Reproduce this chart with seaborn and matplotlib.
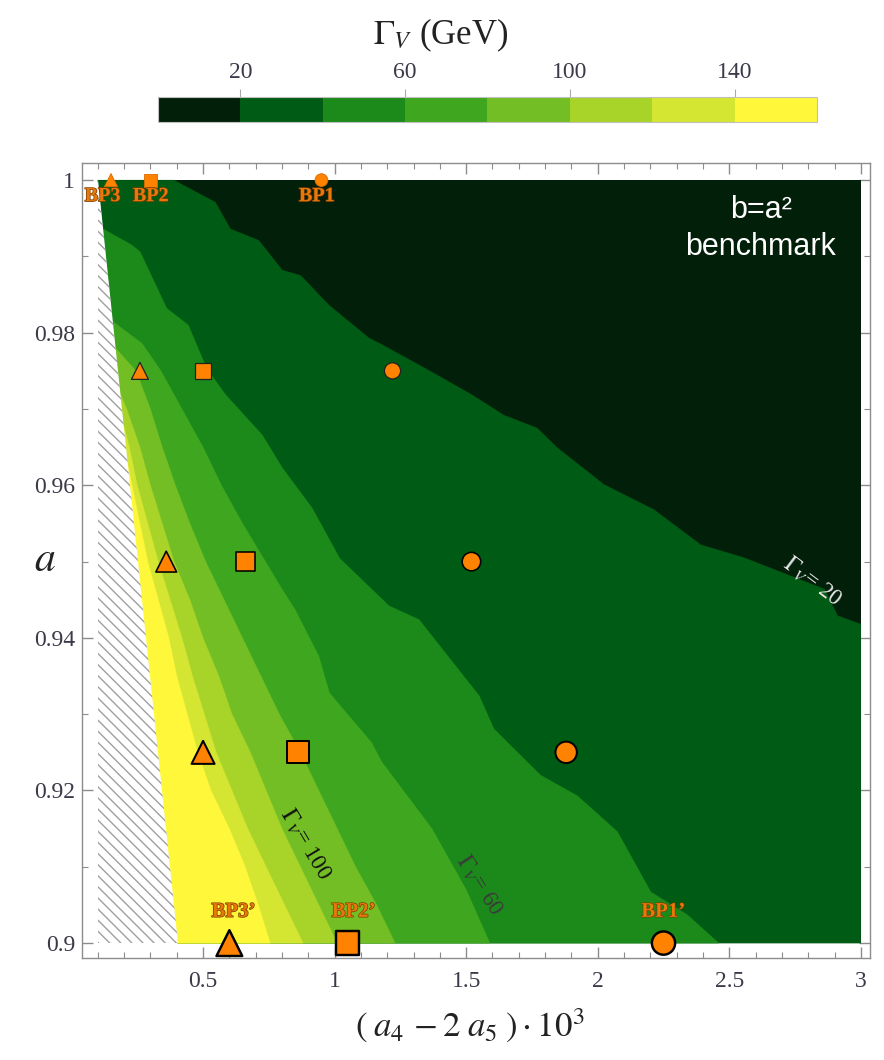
import numpy as np
import matplotlib
matplotlib.use("Agg")
import matplotlib.pyplot as plt
import matplotlib.patheffects as pe
from matplotlib.colors import ListedColormap, BoundaryNorm
from matplotlib.cm import ScalarMappable
from matplotlib.ticker import FixedLocator, FixedFormatter, MultipleLocator
import seaborn as sns

# ---------------- data ----------------
levels = [0, 20, 40, 60, 80, 100, 120, 140, 160]
band_colors = ['#021f0a', '#005b14', '#1c8a1b', '#3fa61f', '#73be25',
               '#a8d328', '#d4e532', '#fff73a']
cbar_ticks = [20, 60, 100, 140]
cbar_ticklabels = ['20', '60', '100', '140']

# data domain and excluded (hatched) wedge
x_lo, x_hi = 0.1, 3.0
a_lo, a_hi = 0.9, 1.0
excl_x = [0.1, 0.404]
excl_a = [1.0, 0.9]

# contour boundaries (x positions vs a)
b20_x = [0.389, 0.547, 0.604, 0.712, 0.801, 0.871, 0.979, 1.131, 1.182, 1.346, 1.52,
         1.643, 1.770, 1.847, 2.024, 2.214, 2.392, 2.557, 2.861, 2.912, 3.0]
b20_a = [1.0, 0.9971, 0.9936, 0.9921, 0.9882, 0.9875, 0.9836, 0.9793, 0.9784, 0.9753, 0.9719,
         0.9692, 0.9675, 0.9649, 0.9601, 0.9568, 0.9522, 0.9505, 0.9464, 0.9429, 0.9418]
b40_x = [0.12, 0.229, 0.261, 0.362, 0.444, 0.514, 0.585, 0.725, 0.801, 0.915, 1.02,
         1.207, 1.321, 1.55, 1.605, 1.783, 1.923, 2.075, 2.202, 2.341, 2.46]
b40_a = [0.9936, 0.9915, 0.9906, 0.9832, 0.9810, 0.9753, 0.9719, 0.9666, 0.9623, 0.9570, 0.9504,
         0.9442, 0.9424, 0.9324, 0.9281, 0.9220, 0.9193, 0.9146, 0.9067, 0.9037, 0.9]
b60_x = [0.156, 0.268, 0.34, 0.42, 0.50, 0.57, 0.65, 0.725, 0.80, 0.85, 0.94, 0.98,
         1.14, 1.18, 1.37, 1.50, 1.59]
b60_a = [0.9815, 0.9786, 0.975, 0.97, 0.965, 0.96, 0.955, 0.9507, 0.9464, 0.9437, 0.9376, 0.9328,
         0.9263, 0.9237, 0.915, 0.907, 0.90]
b80_x = [0.167, 0.245, 0.30, 0.345, 0.395, 0.45, 0.51, 0.58, 0.65, 0.72, 0.79, 0.87,
         0.94, 1.01, 1.08, 1.16, 1.23]
b80_a = [0.978, 0.975, 0.97, 0.965, 0.96, 0.955, 0.95, 0.945, 0.94, 0.935, 0.93, 0.925,
         0.92, 0.915, 0.91, 0.905, 0.90]
b100_x = [0.185, 0.21, 0.26, 0.30, 0.345, 0.39, 0.45, 0.50, 0.56, 0.61, 0.68, 0.74,
          0.80, 0.87, 0.94, 1.01]
b100_a = [0.972, 0.97, 0.965, 0.96, 0.955, 0.95, 0.945, 0.94, 0.935, 0.93, 0.925, 0.92,
          0.915, 0.91, 0.905, 0.90]
b120_x = [0.197, 0.22, 0.25, 0.29, 0.33, 0.375, 0.42, 0.46, 0.505, 0.55, 0.61, 0.67,
          0.74, 0.81, 0.88]
b120_a = [0.968, 0.965, 0.96, 0.955, 0.95, 0.945, 0.94, 0.935, 0.93, 0.925, 0.92, 0.915,
          0.91, 0.905, 0.90]
b140_x = [0.212, 0.23, 0.26, 0.29, 0.33, 0.37, 0.40, 0.44, 0.48, 0.53, 0.60, 0.66,
          0.71, 0.755]
b140_a = [0.963, 0.96, 0.955, 0.95, 0.945, 0.94, 0.935, 0.93, 0.925, 0.92, 0.915, 0.91,
          0.905, 0.90]

# benchmark points
bp_a = [1.0, 0.975, 0.95, 0.925, 0.9]
bp1_x = [0.95, 1.22, 1.52, 1.88, 2.25]
bp2_x = [0.30, 0.50, 0.66, 0.86, 1.05]
bp3_x = [0.15, 0.26, 0.36, 0.50, 0.60]

bp_top_labels = ['BP3', 'BP2', 'BP1']
bp_top_x = [0.118, 0.301, 0.932]
bp_bot_labels = ['BP3\u2019', 'BP2\u2019', 'BP1\u2019']
bp_bot_x = [0.616, 1.072, 2.249]

contour_labels = [r'$\Gamma_V$= 20', r'$\Gamma_V$= 100', r'$\Gamma_V$= 60']
contour_label_x = [2.818, 0.891, 1.551]
contour_label_a = [0.9475, 0.913, 0.9076]

x_major = [0.5, 1.0, 1.5, 2.0, 2.5, 3.0]
x_major_labels = ['0.5', '1', '1.5', '2', '2.5', '3']
y_major = [0.9, 0.92, 0.94, 0.96, 0.98, 1.0]
y_major_labels = ['0.9', '0.92', '0.94', '0.96', '0.98', '1']
y_minor = [0.91, 0.93, 0.95, 0.97, 0.99]

# ---------------- style ----------------
sns.set_style('ticks')
plt.rcParams['font.family'] = ['Liberation Serif', 'DejaVu Serif']
plt.rcParams['mathtext.fontset'] = 'stix'
plt.rcParams['hatch.linewidth'] = 1.0

fig = plt.figure(figsize=(8.84, 10.6), dpi=100, facecolor='white')
ax = fig.add_axes([0.0928, 0.0959, 0.8914, 0.7500])

# background band (0-20) over the whole allowed region
ax.fill([excl_x[0], x_hi, x_hi, excl_x[1]], [a_hi, a_hi, a_lo, a_lo],
        color=band_colors[0], lw=0, zorder=1)

bounds_x = [b20_x, b40_x, b60_x, b80_x, b100_x, b120_x, b140_x]
bounds_a = [b20_a, b40_a, b60_a, b80_a, b100_a, b120_a, b140_a]
for bx, ba, col in zip(bounds_x, bounds_a, band_colors[1:]):
    px = list(bx)
    pa = list(ba)
    if ba[-1] > a_lo:
        px.append(x_hi)
        pa.append(a_lo)
    px.append(excl_x[1])
    pa.append(excl_a[1])
    if ba[0] >= a_hi:
        px.append(excl_x[0])
        pa.append(excl_a[0])
    ax.fill(px, pa, facecolor=col, edgecolor=col, lw=0.3, zorder=2)

# hatched excluded wedge
ax.fill([excl_x[0], excl_x[0], excl_x[1]], [excl_a[0], a_lo, excl_a[1]],
        facecolor='white', edgecolor='#a0a0a0', hatch='\\\\\\', lw=0, zorder=2)

# benchmark markers
orange = '#ff8200'
edge_cols = ['#d86c00', '#222222', 'black', 'black', 'black']
edge_lw = [0.6, 0.9, 1.15, 1.45, 1.75]
circ_s = [85, 135, 178, 238, 280]
sq_s = [85, 138, 182, 255, 280]
tri_s = [90, 150, 225, 275, 345]
for xs, mk, ss in [(bp3_x, '^', tri_s), (bp2_x, 's', sq_s), (bp1_x, 'o', circ_s)]:
    sns.scatterplot(x=xs, y=bp_a, marker=mk, s=ss, color=orange,
                    edgecolor=edge_cols, linewidth=edge_lw, ax=ax,
                    zorder=6, clip_on=False, legend=False)

lab_fx = [pe.withStroke(linewidth=1.0, foreground='#7a3c00')]
for t, xv in zip(bp_top_labels, bp_top_x):
    ax.text(xv, 0.9979, t, ha='center', va='center', fontsize=14.5,
            fontweight='bold', color='#e8780a', zorder=7, path_effects=lab_fx)
for t, xv in zip(bp_bot_labels, bp_bot_x):
    ax.text(xv, 0.9041, t, ha='center', va='center', fontsize=15,
            fontweight='bold', color='#e8780a', zorder=7, path_effects=lab_fx)

# contour labels
cl_rot = [-37, -59, -57]
cl_col = ['#e6e6e6', '#111111', '#3a3a3a']
for t, xv, av, r, c in zip(contour_labels, contour_label_x, contour_label_a, cl_rot, cl_col):
    ax.text(xv, av, t, rotation=r, rotation_mode='anchor', ha='center', va='center',
            fontsize=16.5, color=c, zorder=5)

# benchmark box text
ax.text(2.62, 0.9961, 'b=a\u00b2', color='white', fontsize=22,
        family=['Liberation Sans', 'DejaVu Sans'], ha='center', va='center', zorder=5)
ax.text(2.62, 0.9912, 'benchmark', color='white', fontsize=22,
        family=['Liberation Sans', 'DejaVu Sans'], ha='center', va='center', zorder=5)

# axes
ax.set_xlim(0.04, 3.035)
ax.set_ylim(0.898, 1.0022)
ax.xaxis.set_major_locator(FixedLocator(x_major))
ax.xaxis.set_major_formatter(FixedFormatter(x_major_labels))
ax.xaxis.set_minor_locator(MultipleLocator(0.1))
ax.yaxis.set_major_locator(FixedLocator(y_major))
ax.yaxis.set_major_formatter(FixedFormatter(y_major_labels))
ax.yaxis.set_minor_locator(FixedLocator(y_minor))
ax.tick_params(which='both', direction='in', top=True, right=True,
               color='#8c8c8c', labelcolor='#3a3a4a', labelsize=17)
ax.tick_params(which='major', length=8, width=1)
ax.tick_params(which='minor', length=4.5, width=0.8)
ax.tick_params(axis='x', pad=9)
ax.tick_params(axis='y', pad=5)
for sp in ax.spines.values():
    sp.set_color('#8c8c8c')
    sp.set_linewidth(1.0)
    sp.set_visible(True)

ax.set_xlabel(r'$(\;a_4\,-2\;a_5\;)\cdot10^3$', fontsize=25, color='#222222', va='center')
ax.xaxis.set_label_coords(0.492, -0.085)
ax.set_ylabel(r'$a$', fontsize=30, rotation=0, color='#222222', va='center', ha='center')
ax.yaxis.set_label_coords(-0.047, 0.50)

# colorbar
cmap = ListedColormap(band_colors)
norm = BoundaryNorm(levels, cmap.N)
cax = fig.add_axes([0.1787, 0.8849, 0.7455, 0.0236])
cb = fig.colorbar(ScalarMappable(norm=norm, cmap=cmap), cax=cax,
                  orientation='horizontal', ticks=cbar_ticks)
cb.set_ticklabels(cbar_ticklabels)
cax.xaxis.set_ticks_position('top')
cax.tick_params(axis='x', direction='out', length=6, width=0.8, color='#aaaaaa',
                labelsize=17, labelcolor='#3a3a4a', pad=4)
cax.minorticks_off()
cb.outline.set_edgecolor('#c0c0c0')
cb.outline.set_linewidth(0.8)

fig.text(0.499, 0.967, r'$\Gamma_V$ (GeV)', ha='center', va='center', fontsize=25,
         color='#222222')

fig.savefig('out.png', dpi=100, facecolor='white')
